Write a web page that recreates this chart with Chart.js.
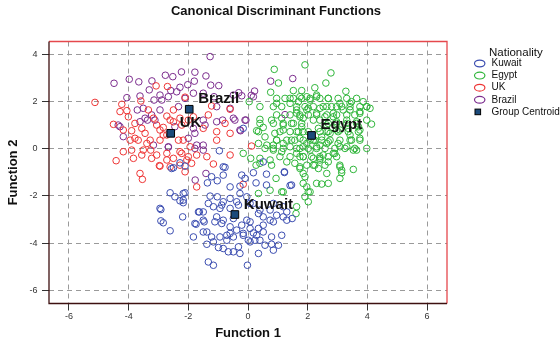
<!DOCTYPE html>
<html>
<head>
<meta charset="utf-8">
<script src="https://cdn.jsdelivr.net/npm/chart.js@4.4.1/dist/chart.umd.min.js"></script>
<style>
  html, body { margin: 0; padding: 0; background: #fff; }
  #wrap { width: 560px; height: 342px; }
</style>
</head>
<body>
<div id="wrap"><canvas id="c" width="560" height="342"></canvas></div>
<script>
// discriminant scores, [function 1, function 2]
const chartTitle = 'Canonical Discriminant Functions';
const legendTitle = 'Nationality';
const groupNames = ['Kuwait', 'Egypt', 'UK', 'Brazil'];
const centroidLabel = 'Group Centroids';
const centroidPts = [[-0.44, -2.79], [2.13, 0.56], [-2.59, 0.65], [-1.97, 1.67]];
const xTicks = [-6, -4, -2, 0, 2, 4, 6];
const yTicks = [-6, -4, -2, 0, 2, 4];

const kuwaitPts = [
  [-0.96,-0.09],[-2.56,-0.84],[-2.11,-0.74],[-2.28,-0.6],[-0.77,-0.79],[-0.83,-1.12],[-1.22,-1.19],[-1.36,-1.45],[-1.03,-1.36],[-0.21,-1.12],
  [0.18,-1.02],[0.62,-1.08],[1.22,-1.01],[0.27,-1.45],[0.62,-1.54],[1.41,-1.56],[-0.6,-1.62],[-0.27,-1.59],[-2.61,-1.87],[-2.45,-2.04],
  [-2.28,-2.21],[-2.11,-1.87],[-2.17,-2.29],[-2.92,-2.58],[-1.63,-2.68],[-2.19,-2.89],[-2.92,-3.06],[-2.84,-3.14],[-2.61,-3.48],[-1.74,-3.2],
  [-1.27,-2.01],[-1.03,-2.04],[-1.33,-2.32],[-1.16,-2.46],[-0.94,-2.53],[-0.83,-2.25],[-0.6,-2.11],[-0.27,-1.9],[-0.04,-2.04],[0.07,-2.32],
  [-0.6,-2.53],[-0.32,-2.39],[0.35,-2.75],[0.51,-2.89],[0.74,-2.6],[0.96,-2.82],[1.18,-2.89],[1.3,-2.68],[1.48,-2.96],[0.85,-3.1],
  [0.51,-3.53],[0.23,-3.88],[0.01,-3.88],[-0.16,-3.59],[-0.38,-3.45],[-0.6,-3.59],[-0.71,-3.88],[-0.94,-3.74],[-1.22,-3.74],[-1.38,-3.53],
  [-1.47,-3.1],[-1.11,-3.1],[-0.83,-3.03],[-0.49,-2.96],[-0.21,-3.24],[0.07,-3.1],[-1.38,-4.05],[-0.99,-4.19],[-0.66,-4.37],[-0.27,-4.44],
  [0.35,-4.44],[0.79,-4.05],[0.85,-4.3],[-1.33,-4.8],[-1.16,-4.94],[-0.02,-4.94],[0.51,-3.24],[0.35,-3.38],[0.18,-3.57],[-2.5,-0.81],
  [0.51,-0.56],[1.22,-0.98],[-0.1,-1.26],[1.46,-1.54],[-0.83,-0.77],[-0.16,0.86],
  [-1.05,-2.89],[-0.88,-3.17],[-0.6,-3.31],[-0.04,-3.03],[0.07,-3.38],[-0.16,-3.67],[-0.49,-3.74],[-0.71,-3.67],[0.29,-3.67],[0.4,-3.88],
  [-1.16,-3.95],[-0.83,-4.23],[-0.32,-4.16],[0.07,-3.95],[0.57,-4.09],[1.02,-4.09],[0.79,-3.74],[1.13,-3.67],[0.74,-3.03],[1.3,-3.03],
  [1.18,-2.46],[0.85,-2.32],[0.4,-2.6],[0.18,-2.32],[-0.38,-2.25],[-0.88,-2.39],[-1.5,-3.03],[-1.5,-3.53],[-1.83,-3.74],[-0.49,-4.37],
  [-2.95,-2.53],[-2.17,-1.9],[-2.17,-2.18],[-1.66,-2.68],[-1.78,-3.17],[-1.5,-2.68]
];

const egyptPts = [
  [1.91,3.55],[0.88,3.36],[2.78,3.21],[1.02,2.78],[2.61,2.78],[0.76,2.39],[1.52,2.46],[1.8,2.46],[2.24,2.58],[3.28,2.43],
  [0.4,1.78],[0.04,1.99],[0.96,1.92],[1.41,2.13],[1.69,1.99],[1.97,2.2],[2.3,2.2],[2.69,2.13],[3.08,1.92],[3.47,1.99],
  [3.86,1.99],[4.09,1.71],[3.75,1.57],[3.42,1.64],[2.97,1.78],[2.41,1.71],[2.02,1.71],[1.63,1.64],[0.79,1.21],[0.4,1.24],
  [0.51,0.9],[0.29,0.76],[0.57,0.5],[0.9,0.65],[1.18,1.0],[1.52,1.07],[1.74,1.35],[2.41,1.21],[2.86,1.35],[3.31,1.21],
  [3.64,1.14],[3.98,1.21],[4.14,1.04],[3.75,0.79],[3.36,0.86],[2.97,0.79],[2.64,0.72],[3.75,0.44],[3.47,0.36],[3.98,0.01],
  [3.64,-0.06],[3.31,0.08],[3.02,0.22],[2.69,0.29],[2.41,0.15],[2.08,0.36],[1.85,0.08],[1.63,-0.2],[1.41,0.08],[1.13,-0.13],
  [0.85,-0.06],[0.63,0.15],[0.35,0.22],[-0.16,-0.2],[0.09,-0.41],[0.27,-0.7],[0.79,-0.7],[0.94,-1.26],[0.74,-1.76],[0.35,-1.9],
  [1.13,-1.83],[1.91,-1.19],[1.85,-1.05],[2.36,-0.84],[2.64,-1.05],[3.08,-0.77],[3.53,-0.88],[3.14,-1.02],[3.08,-1.26],[2.69,-1.47],
  [2.47,-1.5],[1.97,-1.62],[2.02,-1.83],[1.91,-2.04],[1.74,-0.34],[2.19,-0.41],[2.52,-0.27],[2.91,-0.2],[2.08,-0.06],[2.41,-0.48],
  [2.69,-0.56],[2.19,-0.7],[1.3,-0.56],[1.57,-0.62],[1.74,-0.84],[0.4,-0.62],[2.3,-1.47],[1.85,-1.47],[2.08,-1.83],[2.02,-2.25],
  [1.63,-2.46],[1.18,-1.83],[1.61,-2.75],[3.14,-0.91],
  [2.3,2.27],[2.08,2.06],[1.74,2.2],[1.41,1.92],[3.42,1.92],[3.98,1.78],[3.75,1.5],[1.63,1.5],[1.97,1.64],[2.3,1.5],
  [2.64,1.78],[2.86,1.5],[3.19,1.64],[1.13,1.29],[0.4,1.07],[0.35,0.72],[0.96,0.36],[1.18,0.79],[1.8,0.93],[1.74,0.44],
  [1.63,0.01],[1.41,-0.34],[1.85,-0.34],[2.3,0.08],[2.64,0.22],[2.47,0.5],[2.75,0.65],[3.08,0.79],[3.42,0.58],[3.7,0.93],
  [3.53,-0.06],[3.08,0.08],[2.86,-0.2],[2.41,-0.41],[2.24,0.36],[1.97,0.22],[2.02,0.72],[2.36,0.86],[2.64,1.0],[2.97,1.14],
  [1.63,0.72],[1.46,0.36],[1.18,0.22],[0.85,0.15],[0.57,0.01],[1.85,1.29],[2.19,1.21],[2.58,1.35],[0.74,-0.48],[0.4,-0.41],
  [1.74,-0.77],
  // dense core around the centroid
  [0.96,2.13],[1.24,2.13],[1.52,2.13],[1.8,2.13],[2.08,2.13],[2.41,2.13],[2.69,2.13],[3.02,2.13],[3.31,2.13],[3.64,2.13],
  [0.85,1.78],[1.13,1.78],[1.63,1.78],[1.91,1.78],[2.19,1.78],[2.52,1.78],[2.8,1.78],[3.14,1.78],[3.42,1.78],[3.75,1.78],[3.98,1.78],
  [0.96,1.43],[1.41,1.43],[1.74,1.43],[2.02,1.43],[2.3,1.43],[2.64,1.43],[2.97,1.43],[3.31,1.43],[3.58,1.43],
  [0.85,1.07],[1.18,1.07],[1.46,1.07],[1.8,1.07],[2.69,1.07],[2.97,1.07],[3.31,1.07],[3.64,1.07],
  [1.07,0.72],[1.41,0.72],[1.69,0.72],[1.85,0.72],[2.41,0.72],[2.69,0.72],[3.02,0.72],[3.36,0.72],[3.7,0.72],
  [0.96,0.36],[1.3,0.36],[1.57,0.36],[1.85,0.36],[2.19,0.36],[2.47,0.36],[2.75,0.36],[3.08,0.36],[3.42,0.36],[3.75,0.36],
  [0.85,0.01],[1.18,0.01],[1.74,0.01],[2.02,0.01],[2.3,0.01],[2.58,0.01],[2.91,0.01],[3.25,0.01],[3.58,0.01],
  [1.07,-0.34],[1.85,-0.34],[2.13,-0.34],[2.41,-0.34],[2.69,-0.34],[2.97,-0.34],
  [1.97,-0.7],[2.24,-0.7],[2.58,-0.7],[3.08,-0.7]
];

const ukPts = [
  [-5.13,1.96],[-4.23,1.88],[-4.29,1.57],[-4.06,1.61],[-4.01,1.35],[-4.51,1.03],[-3.79,1.07],[-3.9,0.76],[-4.18,0.79],[-3.95,0.36],
  [-3.68,0.36],[-3.45,0.65],[-3.06,1.0],[-2.72,1.38],[-2.5,1.64],[-2.7,2.63],[-3.08,2.66],[-3.59,2.02],[-3.34,1.64],[-3.17,1.29],
  [-2.84,0.9],[-2.5,1.14],[-2.28,1.29],[-2.95,0.36],[-3.28,0.36],[-3.51,-0.06],[-3.9,-0.06],[-3.84,-0.41],[-3.56,-0.27],[-3.26,-0.06],
  [-3.06,-0.27],[-2.72,-0.2],[-2.5,-0.41],[-2.22,-0.2],[-2.05,-0.48],[-2.95,-0.74],[-2.61,-0.77],[-2.28,-0.7],[-1.89,-0.62],[-4.42,-0.51],
  [-3.62,-1.05],[-2.11,-0.98],[-1.16,-0.65],[-1.38,-0.34],[-1.05,0.36],[-0.6,0.65],[-1.05,0.72],[-0.77,1.07],[-1.5,0.86],[-1.33,1.43],
  [-0.6,1.67],[-1.22,1.81],[-2.11,2.18],[-2.61,1.21],[-2.0,1.21],[-1.83,1.35],[-2.22,1.0],[-2.95,0.79],[-2.72,0.58],[-2.33,0.36],
  [-1.94,0.08],[-1.72,-0.27],[0.12,0.11],[-0.6,-0.27],[-0.16,-1.51],[-2.97,-0.72],[-3.54,-1.3],[-1.72,-1.62],
  [-3.56,0.86],[-3.79,0.44],[-3.39,0.22],[-2.84,0.58],[-2.17,0.36],[-2.28,-0.13],[-2.0,-0.34],[-4.18,-0.13],[-3.23,-0.41],[-2.72,-0.48]
];

const brazilPts = [
  [-1.27,3.9],[-4.49,2.77],[-3.98,2.94],[-3.66,2.83],[-3.22,2.87],[-2.77,3.11],[-2.52,3.05],[-2.23,3.25],[-1.78,3.24],[-1.41,3.08],
  [-1.25,2.69],[-0.98,2.67],[-2.02,2.71],[-1.8,2.86],[-2.28,2.6],[-2.59,2.46],[-2.95,2.27],[-3.31,2.49],[-3.62,2.23],[-3.15,2.06],
  [-4.06,2.16],[-1.83,2.35],[-1.5,2.35],[-1.14,2.2],[-0.49,2.27],[-0.21,2.24],[0.18,2.2],[-3.71,1.64],[-3.51,1.71],[-3.62,1.14],
  [-3.37,1.21],[-4.29,0.93],[-4.18,0.51],[-1.05,1.14],[-0.85,1.21],[-0.49,1.29],[-0.1,1.21],[-0.27,0.79],[-1.83,0.86],[-1.5,1.21],
  [-1.78,0.65],[-2.0,0.44],[-2.67,0.06],[-3.17,0.15],[-1.78,0.01],[-1.5,0.15],[-3.23,1.43],[-2.95,1.64],[-2.33,1.78],[-2.11,2.13],
  [-1.05,1.78],[-0.6,1.71],[0.76,2.86],[1.5,2.97],[-0.31,2.37],[0.22,2.44],[0.11,2.26],[-0.07,1.21],[1.24,1.44],[-0.25,0.76],
  [-1.41,-1.05],[-1.77,-1.33],
  [-3.45,1.29],[-3.12,1.21],[-2.89,2.06],[-2.67,2.2],[-2.39,2.41],[-1.44,1.0],[-2.45,0.93],[-2.67,0.08],[-1.72,0.15],[-1.5,-0.06],
  [-4.35,1.0],[-0.44,1.21]
];

const groupPts = [kuwaitPts, egyptPts, ukPts, brazilPts];
const groupColors = ['#3b4db0', '#2fb53a', '#ee3535', '#7c2d8e'];
const centroidFill = '#1b4a7a';

const toXY = pts => pts.map(p => ({ x: p[0], y: p[1] }));

// title, frame, centroid labels and legend
const decor = {
    id: 'decor',
    afterDraw(chart) {
        const { ctx, chartArea: a, scales: { x, y } } = chart;
        ctx.save();

        ctx.fillStyle = '#111';
        ctx.font = 'bold 13px Arial';
        ctx.textAlign = 'center';
        ctx.textBaseline = 'middle';
        ctx.fillText(chartTitle, 276, 11);

        // plot frame: dark left/bottom, red top/right
        ctx.lineWidth = 1.3;
        ctx.strokeStyle = '#e5484d';
        ctx.beginPath();
        ctx.moveTo(a.left, a.top); ctx.lineTo(a.right, a.top); ctx.lineTo(a.right, a.bottom);
        ctx.stroke();
        ctx.strokeStyle = '#3d1010';
        ctx.beginPath();
        ctx.moveTo(a.left, a.top); ctx.lineTo(a.left, a.bottom); ctx.lineTo(a.right, a.bottom);
        ctx.stroke();

        ctx.fillStyle = '#111';
        ctx.font = 'bold 15px Arial';
        ctx.textAlign = 'left';
        ctx.textBaseline = 'alphabetic';
        groupNames.forEach((name, i) => {
            const px = x.getPixelForValue(centroidPts[i][0]);
            const py = y.getPixelForValue(centroidPts[i][1]);
            ctx.fillText(name, px + 9, py - 6);
        });

        // legend
        ctx.font = '11.5px Arial';
        ctx.textBaseline = 'middle';
        ctx.fillText(legendTitle, 489, 53);
        ctx.font = '10px Arial';
        const rowY = i => 63.5 + i * 12.1;
        groupNames.forEach((name, i) => {
            ctx.strokeStyle = groupColors[i];
            ctx.lineWidth = 1.2;
            ctx.beginPath();
            ctx.ellipse(479.7, rowY(i), 5.2, 3.4, 0, 0, 2 * Math.PI);
            ctx.stroke();
            ctx.fillStyle = '#111';
            ctx.fillText(name, 491.5, rowY(i));
        });
        ctx.fillStyle = centroidFill;
        ctx.fillRect(475, rowY(4) - 2.8, 5.6, 5.6);
        ctx.strokeStyle = '#000';
        ctx.lineWidth = 1;
        ctx.strokeRect(475, rowY(4) - 2.8, 5.6, 5.6);
        ctx.fillStyle = '#111';
        ctx.fillText(centroidLabel, 491.5, rowY(4));

        ctx.restore();
    }
};

const datasets = groupNames.map((name, i) => ({
    label: name,
    data: toXY(groupPts[i]),
    borderColor: groupColors[i],
    backgroundColor: 'transparent',
    borderWidth: 1,
    pointRadius: 3.3,
    order: 2
}));
datasets.push({
    label: centroidLabel,
    data: toXY(centroidPts),
    pointStyle: 'rect',
    pointRadius: 5.4,
    backgroundColor: centroidFill,
    borderColor: '#000',
    borderWidth: 1,
    order: 1
});

const axisTitleFont = { family: 'Arial', size: 13, weight: 'bold' };
const tickFont = { family: 'Arial', size: 9 };

new Chart(document.getElementById('c').getContext('2d'), {
    type: 'scatter',
    data: { datasets },
    options: {
        responsive: false,
        animation: false,
        devicePixelRatio: 1,
        layout: { padding: { top: 41.5, right: 113, left: 0, bottom: 0 } },
        plugins: { legend: { display: false }, tooltip: { enabled: false } },
        scales: {
            x: {
                type: 'linear', min: -6.67, max: 6.67,
                afterBuildTicks: s => { s.ticks = xTicks.map(v => ({ value: v })); },
                afterFit: s => { s.height = 38.5; },
                ticks: { font: tickFont, color: '#333', padding: 1 },
                grid: { color: '#9a9a9a', tickColor: '#333', tickLength: 7, tickBorderDash: [] },
                border: { display: false, dash: [5, 4] },
                title: { display: true, text: 'Function 1', font: axisTitleFont, color: '#111', padding: { top: 0, bottom: 1 } }
            },
            y: {
                type: 'linear', min: -6.56, max: 4.54,
                afterBuildTicks: s => { s.ticks = yTicks.map(v => ({ value: v })); },
                afterFit: s => { s.width = 49; },
                ticks: { font: tickFont, color: '#333', padding: 4.5 },
                grid: { color: '#9a9a9a', tickColor: '#333', tickLength: 7, tickBorderDash: [] },
                border: { display: false, dash: [5, 4] },
                title: { display: true, text: 'Function 2', font: axisTitleFont, color: '#111', padding: { top: 6, bottom: 0 } }
            }
        }
    },
    plugins: [decor]
});
</script>
</body>
</html>
